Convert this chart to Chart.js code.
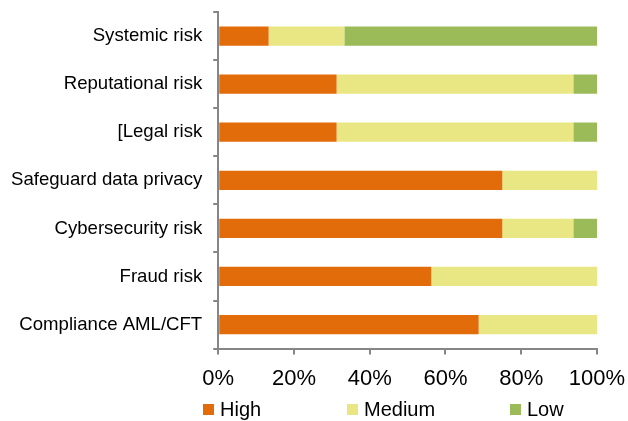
<!DOCTYPE html>
<html>
<head>
<meta charset="utf-8">
<script src="https://cdn.jsdelivr.net/npm/chart.js@4/dist/chart.umd.min.js"></script>
<style>
  html, body { margin: 0; padding: 0; background: #fff; }
  #wrap { width: 628px; height: 421px; }
</style>
</head>
<body>
<div id="wrap"><canvas id="riskChart"></canvas></div>
<script>
const categories = ["Systemic risk", "Reputational risk", "[Legal risk", "Safeguard data privacy",
  "Cybersecurity risk", "Fraud risk", "Compliance AML/CFT"];
const high = [13.3, 31.25, 31.25, 75, 75, 56.25, 68.75];
const medium = [20, 62.5, 62.5, 25, 18.75, 43.75, 31.25];
const low = [66.7, 6.25, 6.25, 0, 6.25, 0, 0];
const xTicks = [0, 20, 40, 60, 80, 100];

const axisColor = "#868686";

// legend drawn by hand so it sits where the original one does
const bottomLegend = {
  id: "bottomLegend",
  afterDraw(chart) {
    const ctx = chart.ctx;
    const starts = [203, 347, 510];
    ctx.save();
    ctx.font = "20px 'Liberation Sans', Arial, sans-serif";
    ctx.textBaseline = "middle";
    chart.data.datasets.forEach((ds, i) => {
      ctx.fillStyle = ds.backgroundColor;
      ctx.fillRect(starts[i], 404, 11, 11);
      ctx.fillStyle = "#000";
      ctx.fillText(ds.label, starts[i] + 17, 410);
    });
    ctx.restore();
  }
};

// the axes add label padding to the chart edges; let layout.padding decide instead
function noEdgePadding(axis) {
  axis.paddingTop = 0;
  axis.paddingBottom = 0;
  axis.paddingLeft = 0;
  axis.paddingRight = 0;
}

new Chart(document.getElementById("riskChart"), {
  type: "bar",
  data: {
    labels: categories,
    datasets: [
      { label: "High", data: high, backgroundColor: "#E36C0A" },
      { label: "Medium", data: medium, backgroundColor: "#E8E784" },
      { label: "Low", data: low, backgroundColor: "#9BBB59" }
    ]
  },
  options: {
    indexAxis: "y",
    responsive: true,
    maintainAspectRatio: false,
    animation: false,
    barPercentage: 0.4,
    categoryPercentage: 1,
    layout: { padding: { top: 12, left: 0, right: 31, bottom: 18 } },
    plugins: {
      legend: { display: false },
      tooltip: { enabled: false }
    },
    scales: {
      x: {
        stacked: true,
        min: 0,
        max: 100,
        afterBuildTicks(axis) { axis.ticks = xTicks.map(v => ({ value: v })); },
        afterFit: noEdgePadding,
        border: { color: axisColor, width: 2 },
        grid: { drawOnChartArea: false, color: axisColor, tickLength: 6, lineWidth: 2 },
        ticks: {
          color: "#000",
          padding: 11,
          font: { family: "'Liberation Sans', Arial, sans-serif", size: 22 },
          callback: v => v + "%"
        }
      },
      y: {
        stacked: true,
        afterFit: noEdgePadding,
        border: { color: axisColor, width: 2 },
        grid: { drawOnChartArea: false, color: axisColor, tickLength: 5, lineWidth: 2, offset: true },
        ticks: {
          color: "#000",
          padding: 11,
          font: { family: "'Liberation Sans', Arial, sans-serif", size: 18.6 }
        }
      }
    }
  },
  plugins: [bottomLegend]
});
</script>
</body>
</html>
